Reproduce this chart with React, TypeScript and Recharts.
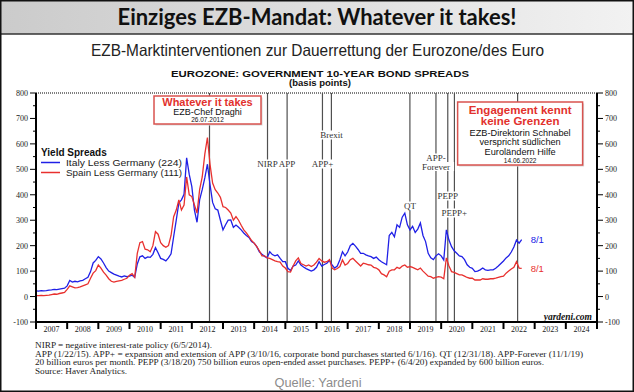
import React from 'react';
import { LineChart, Line, XAxis, YAxis, ReferenceLine, LabelList } from 'recharts';

// ---------- data ----------
const START_YEAR = 2007; // monthly observations, Jan 2007 .. Aug 2022

// Italy less Germany, 10-year government bond spread (bp)
const italy = [
  22, 21, 23, 22, 23, 25, 26, 28, 27, 29, 31, 33, // 2007
  42, 63, 57, 60, 58, 62, 64, 70, 76, 98, 132, 142, // 2008
  157, 148, 132, 114, 100, 94, 88, 84, 80, 77, 81, 78, // 2009
  80, 84, 76, 128, 156, 160, 150, 156, 154, 166, 192, 172, // 2010
  150, 146, 140, 152, 168, 235, 300, 368, 380, 402, 545, 480, // 2011
  432, 340, 292, 380, 420, 466, 520, 440, 370, 345, 340, 300, // 2012
  262, 282, 300, 301, 272, 281, 272, 262, 250, 240, 232, 216, // 2013
  210, 196, 176, 166, 158, 152, 176, 165, 160, 164, 150, 137, // 2014
  137, 111, 102, 120, 124, 140, 124, 116, 110, 105, 100, 105, // 2015
  115, 137, 120, 126, 131, 142, 124, 112, 120, 145, 176, 160, // 2016
  175, 200, 209, 198, 185, 170, 170, 164, 160, 157, 150, 155, // 2017
  145, 137, 131, 125, 240, 252, 235, 282, 272, 312, 328, 282, // 2018
  262, 276, 252, 265, 289, 240, 216, 170, 152, 145, 160, 168, // 2019
  160, 144, 262, 222, 196, 180, 170, 160, 157, 145, 125, 115, // 2020
  111, 98, 100, 105, 112, 105, 103, 105, 105, 111, 120, 130, // 2021
  140, 152, 160, 175, 195, 222, 210, 224, // 2022
];

// Spain less Germany, 10-year government bond spread (bp)
const spain = [
  4, 4, 5, 4, 5, 6, 8, 10, 9, 12, 14, 16, // 2007
  28, 42, 38, 34, 35, 38, 42, 46, 50, 72, 92, 102, // 2008
  124, 112, 96, 84, 70, 60, 57, 60, 62, 64, 68, 72, // 2009
  84, 90, 76, 170, 212, 216, 186, 184, 176, 200, 255, 245, // 2010
  212, 200, 194, 200, 240, 314, 340, 380, 340, 360, 470, 400, // 2011
  393, 360, 328, 420, 470, 560, 625, 520, 446, 420, 407, 390, // 2012
  353, 350, 340, 328, 300, 314, 300, 280, 262, 250, 236, 220, // 2013
  210, 196, 180, 160, 160, 152, 150, 145, 140, 137, 135, 120, // 2014
  112, 98, 96, 120, 140, 152, 130, 125, 120, 124, 118, 124, // 2015
  135, 150, 140, 135, 137, 145, 112, 105, 110, 118, 144, 124, // 2016
  130, 145, 150, 140, 130, 120, 131, 128, 125, 124, 115, 112, // 2017
  105, 90, 85, 78, 100, 105, 105, 115, 110, 120, 124, 115, // 2018
  118, 115, 110, 105, 112, 100, 90, 80, 78, 72, 75, 78, // 2019
  76, 70, 152, 120, 98, 95, 90, 85, 85, 80, 75, 72, // 2020
  72, 65, 65, 65, 70, 68, 68, 70, 70, 72, 75, 78, // 2021
  80, 92, 100, 108, 115, 137, 112, 111, // 2022
];

const yearTicks = [2007, 2008, 2009, 2010, 2011, 2012, 2013, 2014, 2015, 2016, 2017, 2018, 2019, 2020, 2021, 2022, 2023, 2024, 2025];
const yTicks = [-100, -50, 0, 50, 100, 150, 200, 250, 300, 350, 400, 450, 500, 550, 600, 650, 700, 750, 800];

// policy events (decimal year) and their labels
const eventDates = [2012.567, 2014.428, 2015.057, 2016.191, 2016.478, 2018.997, 2019.833, 2020.212, 2020.425, 2022.453];
const eventLabels = ['draghi', 'NIRP', 'APP', 'APP+', 'Brexit', 'QT', 'APP-|Forever', 'PEPP', 'PEPP+', 'schnabel'];

const legendTitle = 'Yield Spreads';
const italyName = 'Italy Less Germany (224)';
const spainName = 'Spain Less Germany (111)';
const lastDateLabel = '8/1';

const footnotes = [
  'NIRP = negative interest-rate policy (6/5/2014).',
  'APP (1/22/15). APP+ = expansion and extension of APP (3/10/16, corporate bond purchases started 6/1/16). QT (12/31/18). APP-Forever (11/1/19)',
  '20 billion euros per month. PEPP (3/18/20) 750 billion euros open-ended asset purchases. PEPP+ (6/4/20) expanded by 600 billion euros.',
  'Source: Haver Analytics.',
];

// ---------- build ----------
const data = italy.map((v, i) => ({ t: START_YEAR + i / 12, italy: v, spain: spain[i] }));
const xTicks = yearTicks.flatMap((y) => (y < 2025 ? [y, y + 0.5] : [y]));
const LAST = italy.length - 1;

const BLUE = '#2020e6';
const RED = '#e8302e';
const SERIF = "'Liberation Serif', 'DejaVu Serif', serif";
const SANS = "'Liberation Sans', Arial, sans-serif";

const LeftTick = (p: any) => {
  const { x, y, payload } = p;
  const v = payload.value;
  const major = v % 100 === 0;
  return (
    <g>
      <line x1={x - (major ? 6 : 3)} x2={x} y1={y} y2={y} stroke="#000" strokeWidth={1} />
      {major && (
        <text x={x - 8} y={y + 3} textAnchor="end" fontSize={8} fontFamily={SERIF} fill="#222">
          {v}
        </text>
      )}
    </g>
  );
};

const RightTick = (p: any) => {
  const { x, y, payload } = p;
  const v = payload.value;
  const major = v % 100 === 0;
  return (
    <g>
      <line x1={x} x2={x + (major ? 6 : 3)} y1={y} y2={y} stroke="#000" strokeWidth={1} />
      {major && (
        <text x={x + 8} y={y + 3} textAnchor="start" fontSize={8} fontFamily={SERIF} fill="#222">
          {v}
        </text>
      )}
    </g>
  );
};

const BottomTick = (p: any) => {
  const { x, y, payload } = p;
  const v = payload.value;
  if (Number.isInteger(v)) {
    return <line x1={x} x2={x} y1={y} y2={y + 7} stroke="#000" strokeWidth={2} />;
  }
  return (
    <text x={x} y={y + 10} textAnchor="middle" fontSize={8} fontFamily={SERIF} fill="#222">
      {Math.floor(v)}
    </text>
  );
};

const BoxLabel = (props: any) => {
  const { vb, dx, top, w, h, lines } = props;
  const cx = vb.x + dx;
  const y0 = vb.y + top;
  return (
    <g>
      <rect x={cx - w / 2 + 1.5} y={y0 + 1.5} width={w} height={h} fill="#d8d8d8" />
      <rect x={cx - w / 2} y={y0} width={w} height={h} fill="#fff" stroke="#d9534f" strokeWidth={1.5} />
      {lines.map((l: any, i: number) => (
        <text
          key={i}
          x={cx}
          y={y0 + l.dy}
          textAnchor="middle"
          fontSize={l.size}
          fontWeight={l.bold ? 700 : 400}
          fontFamily={SANS}
          fill={l.color}
        >
          {l.text}
        </text>
      ))}
    </g>
  );
};

const labelOffsets: Record<string, number> = {
  NIRP: 71,
  APP: 71,
  'APP+': 71,
  Brexit: 42,
  QT: 113,
  'APP-|Forever': 65,
  PEPP: 103,
  'PEPP+': 120,
};

const renderEventLabel = (name: string, p: any) => {
  const vb = p && p.viewBox ? p.viewBox : { x: 0, y: 93 };
  if (name === 'draghi') {
    return (
      <BoxLabel
        vb={vb}
        dx={-2}
        top={3}
        w={107}
        h={28}
        lines={[
          { text: 'Whatever it takes', size: 11, bold: true, color: '#e2312d', dy: 9.5 },
          { text: 'EZB-Chef Draghi', size: 9, color: '#111', dy: 19 },
          { text: '26.07.2012', size: 6.5, color: '#111', dy: 25.5 },
        ]}
      />
    );
  }
  if (name === 'schnabel') {
    return (
      <BoxLabel
        vb={vb}
        dx={2.5}
        top={9}
        w={125}
        h={63}
        lines={[
          { text: 'Engagement kennt', size: 11.5, bold: true, color: '#e2312d', dy: 11.5 },
          { text: 'keine Grenzen', size: 11.5, bold: true, color: '#e2312d', dy: 23 },
          { text: 'EZB-Direktorin Schnabel', size: 9.2, color: '#111', dy: 33.5 },
          { text: 'verspricht südlichen', size: 9.2, color: '#111', dy: 43.3 },
          { text: 'Euroländern Hilfe', size: 9.2, color: '#111', dy: 53 },
          { text: '14.06.2022', size: 6.5, color: '#111', dy: 60.5 },
        ]}
      />
    );
  }
  const parts = name.split('|');
  const off = labelOffsets[name] ?? 70;
  return (
    <g>
      {parts.map((t, i) => {
        const w = t.length * 4.9 + 2;
        const cy = vb.y + off + i * 8.5;
        return (
          <g key={i}>
            <rect x={vb.x - w / 2} y={cy - 4.5} width={w} height={9} fill="#fff" />
            <text x={vb.x} y={cy + 3} textAnchor="middle" fontSize={9} fontFamily={SERIF} fill="#333">
              {t}
            </text>
          </g>
        );
      })}
    </g>
  );
};

const endLabel = (color: string) => (p: any) => {
  if (p.index !== LAST) return null;
  return (
    <text x={p.x + 9} y={p.y + 3.5} fontSize={9.5} fontFamily={SANS} fill={color}>
      {lastDateLabel}
    </text>
  );
};

export default function App() {
  return (
    <div style={{ position: 'absolute', left: 0, top: 0, width: 634, height: 392, background: '#fff', overflow: 'hidden' }}>
      <svg width={634} height={392} style={{ position: 'absolute', left: 0, top: 0 }}>
        <defs>
          <linearGradient id="hdr" x1="0" y1="0" x2="1" y2="0">
            <stop offset="0" stopColor="#cbcbcb" />
            <stop offset="0.6" stopColor="#e2e2e2" />
            <stop offset="1" stopColor="#f2f2f2" />
          </linearGradient>
        </defs>
        <rect x={0} y={0} width={634} height={34} fill="url(#hdr)" />
        <line x1={0} x2={634} y1={34} y2={34} stroke="#333" strokeWidth={1.5} />
        <rect x={0.75} y={0.75} width={632.5} height={390.5} fill="none" stroke="#111" strokeWidth={1.5} />
        <text x={317} y={24.5} textAnchor="middle" fontSize={22} fontWeight={700} fontFamily="Lato, 'Open Sans', sans-serif" fill="#111" textLength={399} lengthAdjust="spacingAndGlyphs">
          Einziges EZB-Mandat: Whatever it takes!
        </text>
        <text x={317.5} y={56} textAnchor="middle" fontSize={16.5} fontFamily={SANS} fill="#222" textLength={453} lengthAdjust="spacingAndGlyphs">
          EZB-Marktinterventionen zur Dauerrettung der Eurozone/des Euro
        </text>
        <text x={320} y={76.5} textAnchor="middle" fontSize={9.5} fontWeight={700} fontFamily={SANS} fill="#111" textLength={298} lengthAdjust="spacingAndGlyphs">
          EUROZONE: GOVERNMENT 10-YEAR BOND SPREADS
        </text>
        <text x={320} y={86} textAnchor="middle" fontSize={9.5} fontWeight={700} fontFamily={SANS} fill="#111">
          (basis points)
        </text>
        {/* legend */}
        <text x={41} y={156} fontSize={10} fontWeight={700} fontFamily={SANS} fill="#111">
          {legendTitle}
        </text>
        <line x1={41} x2={60} y1={162.5} y2={162.5} stroke={BLUE} strokeWidth={1.5} />
        <text x={66} y={166} fontSize={9.5} fontFamily={SANS} fill="#222" textLength={116} lengthAdjust="spacingAndGlyphs">
          {italyName}
        </text>
        <line x1={41} x2={60} y1={172.5} y2={172.5} stroke={RED} strokeWidth={1.5} />
        <text x={66} y={176} fontSize={9.5} fontFamily={SANS} fill="#222" textLength={116} lengthAdjust="spacingAndGlyphs">
          {spainName}
        </text>
        <text x={592} y={319.5} textAnchor="end" fontSize={9.5} fontWeight={700} fontStyle="italic" fontFamily={SERIF} fill="#111">
          yardeni.com
        </text>
        {footnotes.map((f, i) => (
          <text
            key={i}
            x={35}
            y={348 + i * 8.6}
            fontSize={8}
            fontFamily={SERIF}
            fill="#222"
            textLength={[177, 548, 509, 92][i]}
            lengthAdjust="spacingAndGlyphs"
          >
            {f}
          </text>
        ))}
        <text x={318} y={387} textAnchor="middle" fontSize={12.5} fontFamily={SANS} fill="#8c8c8c" textLength={87} lengthAdjust="spacingAndGlyphs">
          Quelle: Yardeni
        </text>
      </svg>
      <div style={{ position: 'absolute', left: 0, top: 0 }}>
        <LineChart width={634} height={392} data={data} margin={{ top: 93, right: 6, bottom: 50, left: 6 }}>
          <XAxis
            dataKey="t"
            type="number"
            domain={[2007, 2025]}
            ticks={xTicks}
            interval={0}
            tick={BottomTick}
            tickLine={false}
            tickSize={0}
            tickMargin={0}
            axisLine={{ stroke: '#000', strokeWidth: 2 }}
            height={20}
            allowDataOverflow
          />
          <YAxis
            yAxisId="left"
            domain={[-100, 800]}
            ticks={yTicks}
            interval={0}
            tick={LeftTick}
            tickLine={false}
            tickSize={0}
            tickMargin={0}
            axisLine={{ stroke: '#000', strokeWidth: 2 }}
            width={30}
            allowDataOverflow
          />
          <YAxis
            yAxisId="right"
            orientation="right"
            domain={[-100, 800]}
            ticks={yTicks}
            interval={0}
            tick={RightTick}
            tickLine={false}
            tickSize={0}
            tickMargin={0}
            axisLine={{ stroke: '#000', strokeWidth: 2 }}
            width={31}
            allowDataOverflow
          />
          <ReferenceLine yAxisId="left" y={800} stroke="#000" strokeWidth={1} strokeDasharray="1 1" />
          {eventDates.map((d, i) => (
            <ReferenceLine key={'l' + i} yAxisId="left" x={d} stroke="#505050" strokeWidth={1.2} />
          ))}
          <Line yAxisId="left" dataKey="italy" stroke={BLUE} strokeWidth={1.3} dot={false} isAnimationActive={false}>
            <LabelList dataKey="italy" content={endLabel(BLUE)} />
          </Line>
          <Line yAxisId="left" dataKey="spain" stroke={RED} strokeWidth={1.3} dot={false} isAnimationActive={false}>
            <LabelList dataKey="spain" content={endLabel(RED)} />
          </Line>
          {eventDates.map((d, i) => (
            <ReferenceLine
              key={'t' + i}
              yAxisId="left"
              x={d}
              stroke="none"
              label={(p: any) => renderEventLabel(eventLabels[i], p)}
            />
          ))}
        </LineChart>
      </div>
    </div>
  );
}
